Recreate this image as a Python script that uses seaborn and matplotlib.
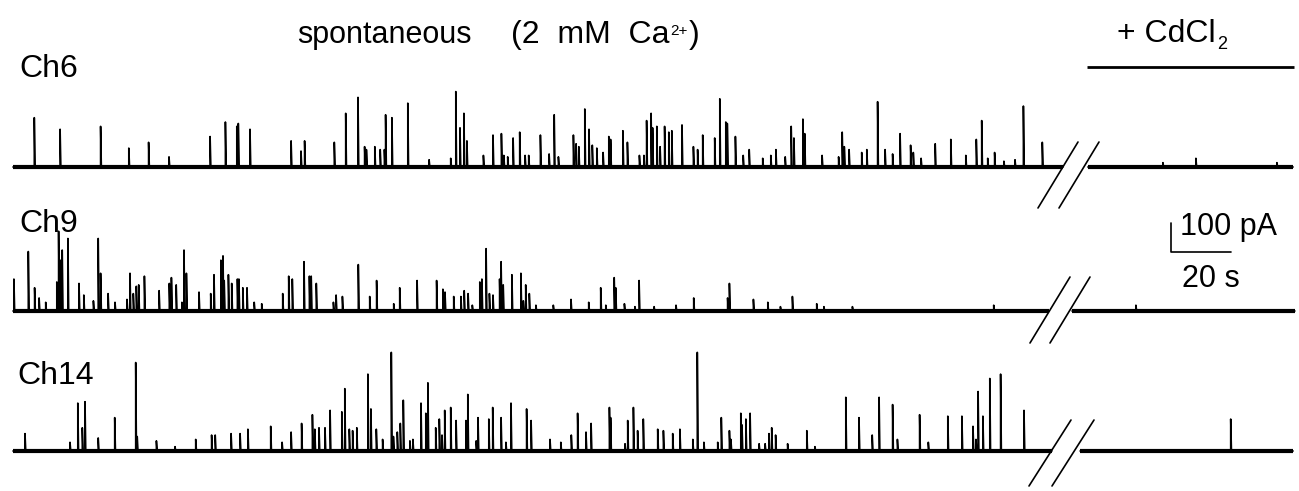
import numpy as np
import pandas as pd
import matplotlib.pyplot as plt
import seaborn as sns

# Event times (s) and peak amplitudes (pA)
ch6_t = [7.1, 15.7, 29.2, 38.6, 45.2, 52.0, 65.7, 70.8, 74.6, 75.1, 79.0, 92.7, 96.0, 97.2,
         107.1, 110.9, 115.0, 117.2, 117.8, 120.6, 122.4, 123.8, 124.2, 126.3, 131.6, 138.7,
         145.9, 147.6, 149.0, 150.3, 151.3, 156.8, 160.0, 162.8, 163.6, 164.9, 166.7, 168.9,
         170.7, 171.9, 175.8, 178.7, 180.4, 181.8, 186.8, 187.7, 188.6, 190.6, 192.0, 193.1,
         194.6, 196.7, 198.6, 199.2, 203.3, 204.8, 208.8, 210.3, 211.2, 212.7, 213.2, 214.6,
         215.7, 217.2, 218.6, 219.6, 223.0, 226.8, 228.2, 229.9, 233.9, 235.6, 237.6, 238.1,
         240.8, 243.4, 245.4, 249.9, 252.6, 254.3, 257.4, 259.4, 260.3, 263.3, 263.9, 269.7,
         275.2, 276.4, 277.1, 278.7, 282.9, 284.6, 288.2, 290.7, 293.2, 295.7, 299.2, 300.1,
         302.7, 307.4, 312.6, 317.6, 321.1, 322.9, 324.9, 327.2, 330.3, 334.0, 336.8, 343.1]
ch6_amp = [170, 130, 140, 65, 85, 35, 105, 155, 140, 150, 130, 90, 55, 90,
           85, 185, 240, 70, 60, 70, 60, 60, 180, 170, 220, 25,
           30, 260, 135, 185, 90, 40, 110, 115, 40, 35, 100, 120,
           40, 40, 110, 45, 180, 35, 110, 80, 70, 200, 130, 75,
           65, 50, 105, 95, 125, 85, 40, 40, 160, 185, 135, 140,
           70, 140, 120, 125, 145, 70, 60, 110, 100, 235, 155, 150,
           105, 40, 60, 30, 40, 60, 35, 140, 100, 165, 115, 40,
           35, 120, 70, 60, 50, 60, 225, 60, 45, 115, 75, 50,
           30, 80, 95, 40, 95, 160, 30, 50, 20, 25, 210, 85]

ch9_t = [0.3, 5.1, 7.2, 8.7, 10.9, 14.6, 15.2, 15.9, 16.4, 18.3, 22.0, 23.6, 26.8, 28.4,
         29.2, 31.7, 34.0, 38.0, 39.0, 40.1, 41.1, 41.9, 43.8, 48.7, 52.1, 52.8, 54.4, 56.3,
         57.0, 57.8, 62.0, 65.9, 67.0, 69.3, 70.0, 70.4, 71.8, 72.9, 74.8, 75.3, 76.6, 78.0,
         80.4, 82.9, 89.9, 91.9, 93.1, 97.0, 98.8, 99.4, 101.1, 106.8, 107.7, 109.8, 115.1,
         118.9, 121.2, 126.9, 128.9, 134.7, 141.2, 143.3, 144.0, 146.9, 149.3, 150.4, 151.7,
         153.1, 155.6, 156.3, 157.7, 158.8, 160.0, 162.2, 162.7, 163.4, 166.3, 169.3, 170.1,
         170.9, 172.1, 174.3, 180.1, 186.0, 191.9, 195.9, 197.6, 200.4, 200.9, 203.8, 207.3,
         208.7, 213.7, 221.0, 226.9, 238.2, 238.8, 246.8, 251.6, 255.8, 259.8, 267.9, 270.3,
         279.8, 326.9]
ch9_amp = [110, 205, 80, 45, 30, 100, 275, 175, 210, 250, 95, 55, 35, 250,
           130, 60, 30, 40, 130, 60, 85, 90, 120, 70, 95, 115, 90, 30,
           210, 130, 65, 60, 125, 175, 190, 105, 125, 95, 110, 110, 80, 80,
           30, 25, 60, 120, 110, 170, 120, 120, 95, 30, 55, 50, 160,
           50, 105, 25, 80, 105, 105, 75, 65, 50, 50, 70, 60,
           20, 100, 110, 215, 60, 55, 110, 170, 90, 125, 130, 35,
           90, 60, 20, 20, 40, 30, 80, 20, 115, 80, 25, 15,
           105, 15, 20, 45, 45, 95, 40, 30, 15, 50, 25, 15,
           15, 20]

ch14_t = [4.0, 19.0, 21.6, 23.1, 24.0, 28.4, 33.9, 40.9, 41.4, 47.8, 54.0, 60.9, 66.2, 67.4,
          72.7, 75.7, 78.3, 85.9, 89.7, 92.7, 96.2, 99.8, 100.6, 102.0, 104.0, 105.7, 109.6,
          110.6, 112.1, 113.2, 114.6, 118.3, 119.3, 121.1, 123.2, 126.1, 126.8, 128.1, 129.1,
          130.1, 132.3, 133.3, 136.0, 137.6, 138.3, 140.9, 142.1, 143.0, 143.9, 145.9, 147.7,
          151.0, 151.6, 154.4, 155.0, 158.6, 159.9, 162.7, 164.3, 166.0, 171.2, 172.7, 179.0,
          182.6, 186.1, 188.2, 191.0, 192.7, 198.8, 199.2, 204.0, 204.9, 206.8, 208.2, 210.1,
          214.9, 216.8, 219.9, 222.3, 226.6, 228.1, 230.3, 234.9, 236.1, 238.8, 239.3, 242.6,
          243.0, 244.3, 245.7, 248.7, 250.7, 252.0, 252.9, 254.2, 258.2, 264.6, 267.3, 277.6,
          282.0, 286.4, 288.7, 293.2, 294.8, 302.2, 305.1, 311.6, 316.3, 320.0, 321.0, 321.7,
          323.3, 325.6, 329.2, 337.0]
ch14_amp = [60, 30, 165, 80, 170, 45, 115, 305, 50, 35, 15, 40, 55, 55,
            60, 60, 75, 85, 30, 65, 95, 125, 75, 80, 80, 140, 135,
            215, 75, 70, 80, 265, 145, 75, 40, 340, 50, 65, 95,
            175, 35, 40, 165, 130, 235, 80, 110, 55, 140, 150, 105,
            105, 195, 35, 115, 110, 150, 115, 30, 165, 145, 105, 40,
            30, 55, 130, 65, 95, 150, 115, 25, 105, 150, 70, 110,
            75, 70, 60, 75, 40, 340, 30, 30, 115, 70, 40, 130,
            90, 110, 130, 25, 25, 60, 80, 55, 25, 70, 15, 185,
            115, 55, 185, 160, 40, 125, 30, 120, 120, 85, 40, 205,
            120, 250, 265, 140]

# Events after CdCl2
ch6_cd_t = [383.3, 394.3, 421.3]
ch6_cd_amp = [15, 30, 15]
ch9_cd_t = [374.3]
ch9_cd_amp = [20]
ch14_cd_t = [405.9]
ch14_cd_amp = [110]

# Segment limits (s): end of control, start of CdCl2, end of CdCl2
ch6_window = (350.0, 358.3, 426.7)
ch9_window = (345.3, 353.0, 427.3)
ch14_window = (346.3, 355.7, 426.7)

channels = ['Ch6', 'Ch9', 'Ch14']
events = {'Ch6': (ch6_t, ch6_amp, ch6_cd_t, ch6_cd_amp, ch6_window),
          'Ch9': (ch9_t, ch9_amp, ch9_cd_t, ch9_cd_amp, ch9_window),
          'Ch14': (ch14_t, ch14_amp, ch14_cd_t, ch14_cd_amp, ch14_window)}

# Layout (pixels of the output image)
W, H = 1299, 491
PX_S = 3.0      # px per second
PX_PA = 0.29    # px per pA
X0 = 13         # px position of t = 0
base_px = {'Ch6': 167, 'Ch9': 311, 'Ch14': 451}
label_px = {'Ch6': (19, 77), 'Ch9': (19, 232), 'Ch14': (17, 384)}
slash_px = {'Ch6': [(1038, 208, 1078, 142), (1059, 208, 1099, 142)],
            'Ch9': [(1030, 343, 1070, 277), (1050, 343, 1090, 277)],
            'Ch14': [(1029, 486, 1071, 420), (1052, 486, 1094, 420)]}


def px2d(x, y):
    return (x - X0) / PX_S, (H - y) / PX_PA


def put(x, y, s, size=22):
    return fig.text(x / W, 1 - y / H, s, fontsize=size, ha='left', va='baseline',
                    color='black')


def right_edge(txt):
    return txt.get_window_extent(fig.canvas.get_renderer()).x1


def trace(t0, t1, times, amps):
    xs, ys = [t0], [0.0]
    for t, a in sorted(zip(times, amps)):
        xs += [t, t, t + 0.25]
        ys += [0.0, a, 0.0]
    xs.append(t1)
    ys.append(0.0)
    return pd.DataFrame({'t': xs, 'pA': ys})


sns.set_style('white')
plt.rcParams['font.family'] = ['Liberation Sans', 'DejaVu Sans']
plt.rcParams['text.color'] = 'black'

fig = plt.figure(figsize=(W / 100, H / 100), dpi=100)
ax = fig.add_axes([0, 0, 1, 1])
ax.set_xlim(-X0 / PX_S, (W - X0) / PX_S)
ax.set_ylim(0, H / PX_PA)
ax.axis('off')

for ch in channels:
    t, amp, cd_t, cd_amp, (pre_end, cd_start, cd_end) = events[ch]
    off = (H - base_px[ch]) / PX_PA
    for df in (trace(0.0, pre_end, t, amp), trace(cd_start, cd_end, cd_t, cd_amp)):
        df['y'] = df['pA'] + off
        sns.lineplot(data=df, x='t', y='y', sort=False, estimator=None,
                     color='black', lw=1.2, ax=ax, legend=False)
        ax.plot([df['t'].iloc[0], df['t'].iloc[-1]], [off, off], color='black',
                lw=3.0, solid_capstyle='butt')
    for x1, y1, x2, y2 in slash_px[ch]:
        a, b = px2d(x1, y1)
        c, d = px2d(x2, y2)
        ax.plot([a, c], [b, d], color='black', lw=1.2)
    lx, ly = label_px[ch]
    put(lx, ly, ch, 23)

# scale bar: 100 pA, 20 s
sx, sy = px2d(1171, 252)
ax.plot([sx, sx, sx + 20], [sy + 100, sy, sy], color='black', lw=1.2)
put(1180, 235, '100 pA')
put(1182, 287, '20 s')

# condition labels
put(297, 43.5, 'spontaneous', 22)
ca = put(511, 43.5, '(2  mM  Ca', 23)
sup = put(right_edge(ca) + 1, 35, '2+', 11)
put(right_edge(sup) + 1, 43.5, ')', 23)
cd = put(1117, 42, '+ CdCl', 23)
put(right_edge(cd) + 1, 49, '2', 13)
a, b = px2d(1087, 67)
c, d = px2d(1294, 67)
ax.plot([a, c], [b, d], color='black', lw=2.0, solid_capstyle='butt')

fig.savefig('out.png', dpi=100)
